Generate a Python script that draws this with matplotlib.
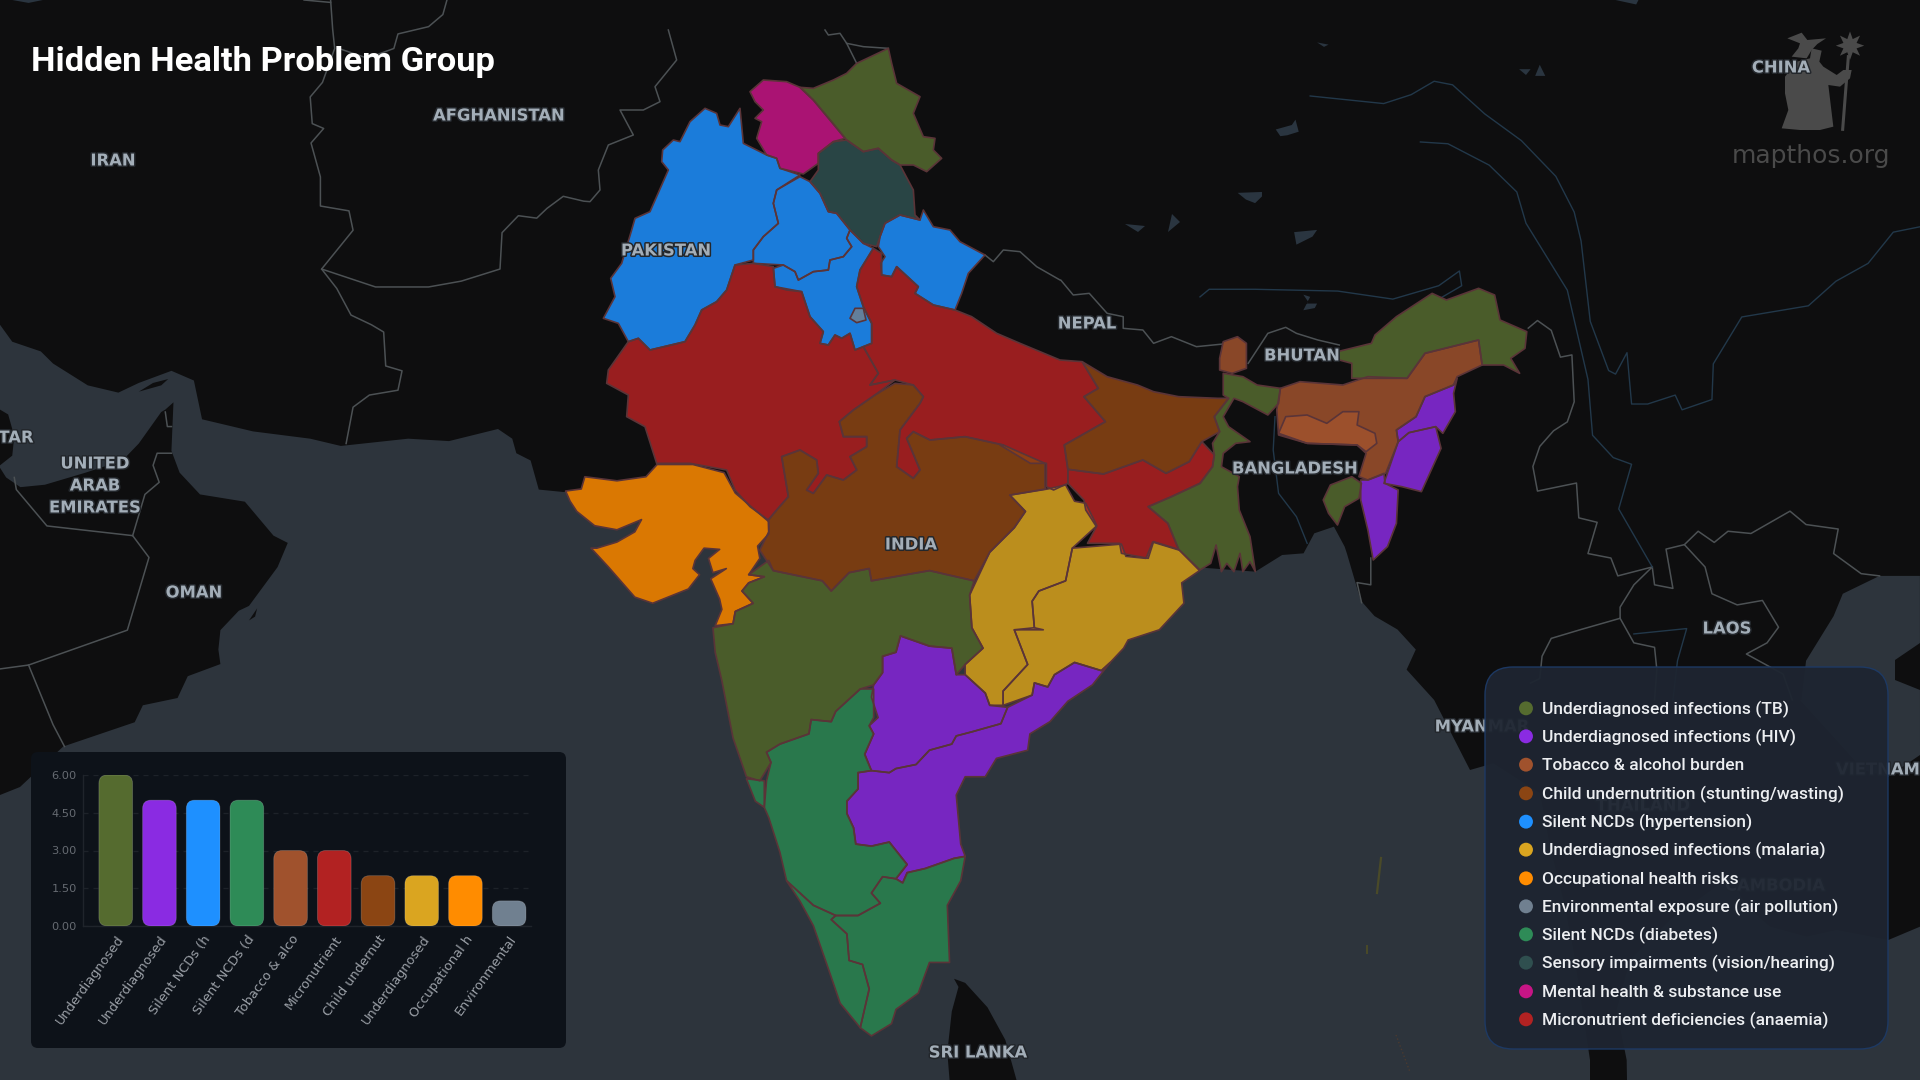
#!/usr/bin/env python3
"""Hidden health problem groups: state map of India with a small bar chart and legend.
"""

import matplotlib
matplotlib.use('Agg')
import matplotlib.pyplot as plt
import matplotlib.patheffects as pe
from matplotlib.patches import FancyBboxPatch, Polygon


def crop(x0, y0, sx, sy, pts):
  return [(x0 + x / sx, y0 + y / sy) for x, y in pts]

def a(pts):
  return crop(580, 30, 3, 3, pts)

def b(pts):
  return crop(1000, 270, 2.8, 3, pts)

def c(pts):
  return crop(550, 440, 2.24, 2.45, pts)

def d(pts):
  return crop(0, 0, 2.45, 2.063, pts)

def e(pts):
  return crop(1200, 0, 2.178, 2.24, pts)

def f(pts):
  return crop(1470, 660, 3, 3, pts)

def g(pts):
  return crop(1700, 20, 3, 3, pts)


# Bar chart
bar_labels = ['Underdiagnosed', 'Underdiagnosed', 'Silent NCDs (h', 'Silent NCDs (d', 'Tobacco & alco',
              'Micronutrient', 'Child undernut', 'Underdiagnosed', 'Occupational h', 'Environmental']
bar_values = [6, 5, 5, 5, 3, 3, 2, 2, 2, 1]
bar_colors = ['#556B2F', '#8A2BE2', '#1E90FF', '#2E8B57', '#A0522D',
              '#B22222', '#8B4513', '#DAA520', '#FF8C00', '#708090']
y_ticks = [0, 1.5, 3, 4.5, 6]

# Legend
legend_labels = ['Underdiagnosed infections (TB)', 'Underdiagnosed infections (HIV)', 'Tobacco & alcohol burden',
                 'Child undernutrition (stunting/wasting)', 'Silent NCDs (hypertension)',
                 'Underdiagnosed infections (malaria)', 'Occupational health risks',
                 'Environmental exposure (air pollution)', 'Silent NCDs (diabetes)',
                 'Sensory impairments (vision/hearing)', 'Mental health & substance use',
                 'Micronutrient deficiencies (anaemia)']
legend_colors = ['#556B2F', '#8A2BE2', '#A0522D', '#8B4513', '#1E90FF', '#DAA520',
                 '#FF8C00', '#708090', '#2E8B57', '#2F4F4F', '#C71585', '#B22222']
legend_rows = [145, 229, 314, 400, 485, 569, 655, 739, 823, 908, 994, 1078]

# State outlines
ladakh = a([(660,172),(700,175),(760,150),(800,130),(830,100),(925,55),(935,100),(950,160),(1020,200),(1000,250),(1030,320),(1065,325),(1060,360),(1085,385),(1040,425),(1000,405),(960,405),(935,390),(895,355),(850,365),(800,330),(750,270),(700,210)])
kashmir = a([(510,185),(550,150),(620,155),(660,172),(700,210),(750,270),(795,325),(760,335),(715,370),(715,400),(670,432),(600,415),(590,385),(560,375),(530,325),(545,275),(525,265),(550,240),(525,215)])
himachal = a([(760,335),(800,330),(850,365),(895,355),(935,390),(960,405),(1000,480),(1005,555),(1020,570),(960,555),(915,580),(900,620),(890,650),(850,640),(810,600),(770,550),(745,545),(720,490),(690,455),(715,420),(715,370)])
west_punjab = a([(375,235),(410,250),(420,285),(445,290),(480,235),(490,340),(560,375),(590,385),(600,415),(660,435),(590,480),(580,520),(595,580),(550,620),(520,660),(520,690),(465,705),(440,780),(410,815),(365,840),(345,885),(315,935),(210,960),(175,925),(145,935),(115,880),(70,865),(105,800),(92,745),(125,700),(155,600),(165,565),(210,545),(265,420),(245,395),(248,360),(280,330),(300,335),(330,275)])
punjab = a([(690,455),(720,490),(745,545),(770,550),(810,600),(800,625),(815,650),(790,680),(750,690),(745,720),(700,725),(655,750),(645,725),(610,705),(520,700),(520,660),(550,620),(595,580),(580,520),(590,480),(660,440)])
haryana = a([(810,600),(850,640),(880,655),(840,720),(830,770),(850,830),(875,880),(875,940),(825,960),(810,910),(785,925),(765,915),(745,945),(720,940),(730,905),(690,860),(665,785),(620,780),(585,770),(580,715),(610,705),(645,725),(655,750),(700,725),(745,720),(750,690),(790,680),(815,650),(800,625)])
delhi = a([(825,835),(850,835),(858,870),(830,878),(810,865)])
uttarakhand = a([(1030,540),(1060,590),(1110,600),(1140,635),(1215,675),(1165,730),(1145,790),(1125,840),(1060,825),(1005,790),(1015,770),(950,710),(935,740),(905,735),(902,700),(915,680),(895,650),(900,620),(915,580),(960,555),(1020,570)])
rajasthan = a([(520,700),(580,710),(585,770),(665,785),(690,860),(730,905),(720,940),(745,945),(765,915),(785,925),(810,910),(825,960),(850,950),(895,1030),(870,1065),(945,1050),(885,1095),(820,1140),(778,1175),(790,1220),(860,1220),(860,1250),(810,1280),(830,1320),(790,1350),(740,1335),(700,1390),(680,1380),(715,1330),(710,1290),(660,1260),(605,1280),(625,1400),(590,1440),(565,1470),(510,1430),(465,1380),(440,1320),(330,1300),(230,1300),(195,1190),(140,1160),(145,1095),(80,1060),(85,1020),(145,935),(175,925),(210,960),(315,935),(345,885),(365,840),(410,815),(440,780),(465,705)])
uttar_pradesh = a([(880,655),(905,670),(905,735),(935,740),(950,710),(1015,770),(1005,790),(1060,825),(1125,840),(1175,860),(1250,910),(1320,940),(1440,990)]) + b([(230,275),(275,355),(235,380),(295,455),(180,525),(190,598),(190,640),(150,660),(130,650),(130,580),(85,580),(0,525)]) + a([(1270,1245),(1155,1220),(1050,1230),(1000,1205),(980,1225),(1020,1320),(1000,1345),(950,1310),(960,1200),(1020,1120),(1030,1100),(1000,1065),(945,1050),(870,1065),(895,1030),(850,950),(875,940),(875,880),(850,830),(830,770),(840,720)])
madhya_pradesh = a([(778,1175),(820,1140),(885,1095),(945,1060),(1000,1065),(1030,1100),(1020,1120),(960,1200),(950,1310),(1000,1345),(1020,1320),(980,1225),(1000,1205),(1050,1230),(1155,1220),(1270,1245),(1395,1300),(1395,1370)]) + c([(1110,120),(1030,135),(1065,175),(1040,215),(985,275),(950,345),(850,320),(720,345),(715,315),(670,325),(630,370),(610,345),(500,320),(470,270),(490,225)]) + a([(565,1470),(590,1440),(625,1400),(605,1280),(660,1260),(710,1290),(715,1330),(680,1380),(700,1390),(740,1335),(790,1350),(830,1320),(810,1280),(860,1250),(860,1220),(790,1220)])
gujarat = c([(240,60),(320,60),(390,80),(415,130),(490,200),(490,230),(465,260),(470,290),(445,330),(480,335),(445,350),(430,370),(455,400),(415,420),(410,450),(370,455),(385,415),(380,390),(360,340),(395,315),(365,325),(355,290),(380,268),(345,265),(325,295),(320,315),(335,330),(310,365),(230,400),(190,385),(130,310),(92,265),(105,265),(150,250),(190,225),(205,195),(150,220),(100,210),(60,175),(45,150),(35,125),(70,120),(78,90),(150,100),(215,90)])
maharashtra = c([(490,295),(500,320),(610,345),(630,370),(670,325),(715,315),(720,345),(850,320),(950,345),(940,380),(945,460),(970,510),(930,550),(910,575),(900,510),(850,505),(785,480),(775,520),(745,530),(745,570),(725,600),(695,610),(640,665),(630,690),(585,685),(580,720),(515,745),(485,765),(495,790),(470,835),(440,825),(410,730),(385,590),(370,520),(365,460),(410,450),(415,420),(455,400),(430,370),(445,350),(480,335),(445,330)])
chhattisgarh = c([(1155,110),(1175,150),(1200,155),(1225,210),(1170,265),(1155,345),(1095,370),(1080,395),(1085,460),(1105,465),(1040,465),(1070,550),(1015,615),(1015,650),(985,650),(975,620),(930,575),(930,550),(970,510),(945,460),(940,380),(985,275),(1040,215),(1065,175),(1030,135),(1115,120)])
odisha = c([(1170,265),(1225,260),(1280,255),(1290,285),(1335,290),(1350,250),(1410,270),(1455,320),(1415,350),(1420,400),(1365,465),(1295,490),(1285,510),(1255,545),(1235,565),(1175,545),(1130,575),(1115,605),(1085,595),(1080,625),(1015,650),(1015,615),(1070,550),(1040,465),(1085,460),(1080,395),(1095,370),(1155,345)])
jharkhand = b([(190,598),(290,612),(400,570),(465,610),(530,575),(565,515),(600,555),(595,590),(560,640),(480,680),(415,710),(470,760),(500,838),(430,815),(415,865),(340,850),(335,820),(245,820),(270,770),(240,720),(235,690),(190,640)])
bihar = b([(230,275),(300,320),(385,345),(430,365),(500,380),(610,385),(640,385),(600,440),(615,485),(565,515),(530,575),(465,610),(400,570),(290,612),(190,598),(180,525),(295,455),(235,380),(275,355)])
west_bengal = b([(625,310),(680,320),(720,345),(785,355),(780,400),(750,435),(680,395),(655,385),(625,440),(640,470),(700,515),(660,520),(625,550),(620,590),(670,620),(665,650),(670,720),(700,800),(715,905),(700,875),(680,905),(672,850),(655,905),(635,880),(620,905),(605,825),(590,880),(560,900),(500,838),(470,760),(415,710),(480,680),(560,640),(595,590),(600,555),(595,520),(615,485),(600,440),(640,385),(625,375)])
sikkim = b([(625,215),(665,200),(690,220),(690,295),(650,310),(615,300),(615,265)])
assam = b([(785,355),(840,335),(960,345),(1030,320),(1140,325),(1190,250),(1340,210),(1350,285),(1280,320),(1270,345),(1190,380),(1165,440),(1110,480),(1115,515),(1080,610),(1030,630),(1005,620),(1025,550),(1000,525),(860,520),(780,495),(775,420)])
meghalaya = b([(780,490),(800,440),(860,435),(915,460),(960,425),(1005,425),(1000,465),(1050,490),(1055,520),(1025,545),(1000,525),(860,520)])
arunachal = b([(945,245),(1040,220),(1050,195),(1110,140),(1210,70),(1250,90),(1340,55),(1385,75),(1400,150),(1475,185),(1470,235),(1430,265),(1455,310),(1410,285),(1350,285),(1340,210),(1190,250),(1140,325),(985,325),(985,280),(950,270)])
nagaland = b([(1280,325),(1270,370),(1275,425),(1240,490),(1220,470),(1145,488),(1115,515),(1110,480),(1165,440),(1190,380),(1270,345)])
manipur = b([(1145,488),(1220,470),(1235,535),(1180,665),(1125,650),(1075,640),(1115,515)])
mizoram = b([(1030,630),(1075,610),(1078,640),(1115,660),(1110,760),(1085,830),(1045,870),(1030,780),(1010,690),(1010,630)])
tripura = b([(985,620),(1012,640),(1005,685),(965,710),(945,765),(920,730),(905,690),(925,645)])
telangana = c([(785,480),(850,505),(900,510),(910,575),(930,575),(975,620),(985,650),(1025,655),(1010,695),(945,715),(910,725),(900,745),(850,760),(820,795),(775,805),(760,815),(720,810),(705,770),(725,720),(715,700),(735,680),(720,630),(725,600),(745,570),(745,530),(775,520)])
andhra = c([(1255,545),(1215,600),(1160,640),(1120,690),(1075,720),(1070,760),(1000,780),(975,825),(930,825),(910,870),(920,990),(930,1020),(905,1025),(840,1050),(800,1060),(790,1085),(775,1075),(800,1040),(760,985),(720,995),(685,990),(680,950),(665,915),(665,885),(690,855),(690,815),(720,810),(760,815),(775,805),(820,795),(850,760),(900,745),(910,725),(945,715),(1010,695),(1025,655),(1080,625),(1085,595),(1115,605),(1130,575),(1175,545),(1235,565)])
karnataka = c([(725,610),(725,680),(715,700),(725,720),(705,770),(720,810),(690,815),(690,855),(665,885),(665,915),(680,950),(685,990),(720,995),(760,985),(800,1040),(775,1075),(745,1070),(720,1110),(740,1135),(690,1165),(640,1165),(590,1140),(530,1080),(515,1010),(490,925),(480,900),(485,835),(495,790),(485,765),(515,745),(580,720),(585,685),(630,690),(640,665),(695,610)])
goa = c([(440,830),(480,835),(480,900),(460,885)])
tamil_nadu = c([(930,1020),(920,1080),(890,1140),(895,1280),(850,1280),(825,1355),(775,1395),(765,1430),(720,1460),(695,1440),(715,1345),(700,1285),(670,1275),(665,1210),(630,1175),(640,1165),(690,1165),(740,1135),(720,1110),(745,1070),(775,1075),(790,1085),(800,1060),(840,1050),(905,1025)])
kerala = c([(530,1080),(590,1140),(640,1165),(630,1175),(665,1210),(670,1275),(700,1285),(715,1345),(695,1440),(650,1380),(625,1300),(590,1190),(560,1130)])

states = [
  (ladakh, '#556B2F'), (kashmir, '#C71585'), (himachal, '#2F4F4F'), (west_punjab, '#1E90FF'),
  (punjab, '#1E90FF'), (haryana, '#1E90FF'), (delhi, '#708090'), (uttarakhand, '#1E90FF'),
  (rajasthan, '#B22222'), (uttar_pradesh, '#B22222'), (madhya_pradesh, '#8B4513'), (gujarat, '#FF8C00'),
  (maharashtra, '#556B2F'), (chhattisgarh, '#DAA520'), (odisha, '#DAA520'), (jharkhand, '#B22222'),
  (bihar, '#8B4513'), (west_bengal, '#556B2F'), (sikkim, '#A0522D'), (assam, '#A0522D'),
  (meghalaya, '#A0522D'), (arunachal, '#556B2F'), (nagaland, '#8A2BE2'), (manipur, '#8A2BE2'),
  (mizoram, '#8A2BE2'), (tripura, '#556B2F'), (telangana, '#8A2BE2'), (andhra, '#8A2BE2'),
  (karnataka, '#2E8B57'), (goa, '#2E8B57'), (tamil_nadu, '#2E8B57'), (kerala, '#2E8B57'),
]

# Base map
sea_west = (
  d([(0,670),(30,705),(100,725),(130,750),(215,795),(290,810),(340,790),(420,765),(475,785),(495,865),(620,890),(760,905),(835,920),(1000,905),(1100,910),(1220,885),(1255,905),(1265,935),(1300,950),(1320,1010),(1380,1015)])
  + [(650,482), (800,520), (1100,560)]
  + b([(715,905),(790,855),(850,850),(880,790),(935,770),(965,830)])
  + e([(320,1240),(350,1345),(380,1380),(430,1410),(470,1455),(450,1500),(510,1568)])
  + f([(0,330),(70,310),(210,400),(240,560),(280,720),(310,870),(360,1200)])
  + [(1590,1080), (0,1080)]
)
sea_east = (
  f([(470,1200),(440,1050),(480,900),(600,780),(780,650),(830,740),(900,800),(1010,830),(1100,810),(1255,840),(1350,800)])
  + [(1920,1080), (1627,1080)]
)
sea_china = (
  e([(1568,1290),(1480,1290),(1400,1330),(1380,1380),(1320,1480),(1310,1568)])
  + f([(990,120),(1090,230),(1180,330),(1255,350),(1350,285)])
)
arabia = d([(0,965),(15,985),(50,1005),(110,1000),(210,975),(300,950),(340,915),(395,850),(405,845),(425,830),(420,930),(440,975),(490,1020),(600,1035),(670,1105),(705,1120),(680,1170),(610,1250),(585,1260),(540,1300),(535,1340),(540,1370),(460,1395),(435,1440),(350,1455),(330,1490),(155,1540)]) + [(20,787), (0,795)]
qatar = d([(0,845),(20,855),(35,900),(30,940),(0,960)])
qeshm = d([(340,808),(375,790),(412,782),(395,795)])
masirah = d([(610,1280),(630,1255),(625,1272)])
sri_lanka = c([(905,1320),(930,1330),(980,1390),(1020,1470),(1045,1568),(895,1568),(890,1500),(900,1400),(915,1340)])
hainan = [(1920,643),(1895,660),(1895,680),(1920,690)]
land_bits = [arabia, qatar, qeshm, masirah, sri_lanka, hainan]

borders = [
  d([(810,0),(815,60),(820,100),(790,170),(760,200),(765,255),(793,265),(762,295),(785,365),(785,425),(855,435),(865,475),(788,555),(825,595),(860,650),(910,670),(940,685),(945,755),(985,765),(975,805),(905,815),(865,840),(848,915)]),
  d([(788,555),(920,592),(1050,592),(1130,580),(1225,555),(1230,480),(1270,445),(1315,450),(1340,430),(1380,405),(1430,415)]) + a([(30,515),(60,480),(55,420),(85,345),(160,315),(120,240),(190,240),(240,215),(225,170),(290,90),(265,0)]),
  d([(1095,0),(1085,30),(1050,55),(975,70),(965,100),(900,120),(830,100)]),
  d([(745,0),(810,5)]),
  a([(735,0),(745,15),(780,10),(800,40),(830,100)]),
  a([(800,40),(850,50),(925,55)]),
  d([(35,985),(40,1010),(115,1085),(325,1105),(365,1150),(312,1300),(70,1372),(0,1380)]),
  d([(70,1372),(130,1495),(158,1540)]),
  d([(325,1105),(355,1020),(390,995),(375,960),(385,935),(420,935)]),
  d([(405,850),(410,880),(420,880)]),
  a([(1215,675),(1240,695),(1270,660),(1320,665),(1370,710),(1440,750)]) + b([(170,30),(205,75),(250,70),(300,130),(345,140),(345,175),(400,180),(430,220),(480,200),(550,230),(625,222)]),
  b([(695,280),(750,190),(800,172),(830,190),(890,210),(950,225)]),
  e([(715,735),(735,718),(765,740),(785,800),(810,795),(815,900),(800,945),(770,965),(740,1000),(725,1045),(735,1100),(820,1082),(825,1160),(865,1170),(845,1240),(895,1250),(910,1290),(985,1270),(990,1310),(1030,1318),(1015,1230),(1055,1220),(1100,1270),(1115,1330),(1170,1355),(1225,1345),(1260,1405),(1235,1440),(1190,1465),(1270,1510),(1290,1568)]),
  e([(1055,1220),(1085,1190),(1120,1215),(1150,1190),(1200,1195),(1285,1145),(1320,1175),(1390,1185),(1380,1240),(1440,1285),(1480,1290)]),
  e([(985,1270),(945,1310),(915,1360),(915,1385)]),
  e([(915,1385),(830,1410),(765,1430),(745,1470),(740,1520),(720,1530)]),
  e([(915,1385),(945,1440),(990,1450),(995,1500),(990,1568)]),
  e([(372,1250),(372,1310),(342,1305),(352,1350)]),
]
rivers = [
  e([(240,215),(400,232),(460,212),(510,182),(550,190),(620,255),(700,315),(775,395),(815,475),(830,540),(850,720),(890,830),(905,838),(930,790),(940,905),(975,905),(1035,885),(1050,918),(1115,895),(1118,815),(1180,710),(1325,685),(1385,630),(1455,590),(1510,520),(1568,508)]),
  e([(480,318),(540,322),(630,370),(690,430),(710,500),(800,650),(845,850),(855,975),(900,1025),(940,1040),(912,1140),(985,1270)]),
  e([(945,1420),(1060,1408),(1040,1480),(1030,1568)]),
  e([(0,665),(20,648),(120,648),(300,652),(420,670),(520,640),(565,607),(570,640),(520,670)]),
  b([(770,440),(765,540),(780,670),(830,740),(860,820)]),
]
lakes = [
  e([(255,95),(280,100),(270,105)]),
  e([(695,155),(720,155),(710,168)]),
  e([(730,170),(740,145),(752,170)]),
  e([(165,290),(200,280),(208,268),(215,295),(190,303),(175,305)]),
  e([(82,432),(135,430),(135,440),(120,455),(100,447)]),
  e([(205,520),(255,515),(245,530),(210,548)]),
  e([(225,660),(240,665),(232,680),(255,680),(250,690),(225,695),(235,675)]),
  e([(905,0),(955,0),(950,10)]),
  d([(30,0),(105,0),(70,6)]),
  [(1125,224),(1145,226),(1138,232)],
  [(1168,232),(1172,214),(1180,222)],
]

# Country names: text, x, y in image pixels
country_names = [
  ('IRAN', 113, 161), ('AFGHANISTAN', 499, 116), ('PAKISTAN', 666, 251), ('NEPAL', 1087, 324),
  ('BHUTAN', 1302, 356), ('BANGLADESH', 1295, 469), ('INDIA', 911, 545), ('SRI LANKA', 978, 1053),
  ('OMAN', 194, 593), ('UNITED', 95, 464), ('ARAB', 95, 486), ('EMIRATES', 95, 508), ('TAR', 16, 438),
  ('CHINA', 1781, 68), ('LAOS', 1727, 629), ('MYANMAR', 1482, 727), ('VIETNAM', 1878, 770),
  ('THAILAND', 1643, 806), ('CAMBODIA', 1775, 886),
]

# Logo
wizard_hat = g([(262,55),(305,38),(322,60),(378,55),(352,72),(335,90),(320,115),(275,110),(295,85),(300,70)])
wizard_body = g([(335,85),(365,92),(358,125),(370,140),(410,165),(430,150),(455,150),(450,175),(420,200),(385,195),(400,320),(360,330),(300,330),(245,325),(265,270),(255,220),(255,170),(290,125),(330,115)])
wizard_staff = g([(445,110),(428,328)])
wizard_star = g([(450,77)])


def draw_map(ax):
  ax.set_xlim(0, 1920)
  ax.set_ylim(1080, 0)
  ax.axis('off')
  ax.add_patch(plt.Rectangle((0, 0), 1920, 1080, fc='#0e0e0f', ec='none', zorder=0))

  for sea in [sea_west, sea_east, sea_china]:
    ax.add_patch(Polygon(sea, closed=True, fc='#2d343c', ec='none', zorder=1))
  for land in land_bits:
    ax.add_patch(Polygon(land, closed=True, fc='#0e0e0f', ec='none', zorder=2))
  for lake in lakes:
    ax.add_patch(Polygon(lake, closed=True, fc='#2a3540', ec='none', zorder=2))
  for line in borders:
    ax.plot(*zip(*line), color='#4c5154', lw=1.1, zorder=3, solid_joinstyle='round')
  for line in rivers:
    ax.plot(*zip(*line), color='#22384a', lw=1.0, zorder=3)

  # Dark base first so the sea never shows through the translucent fills
  for outline, color in states:
    ax.add_patch(Polygon(outline, closed=True, fc='#0e0e0f', ec='none', zorder=4))
    ax.add_patch(Polygon(outline, closed=True, fc=color, ec='none', alpha=0.85, zorder=4.5))
    ax.add_patch(Polygon(outline, closed=True, fc='none', ec='#5a3438', lw=1.2, zorder=5, joinstyle='round'))

  # Andaman islands, only specks at this zoom
  ax.plot([1381, 1377], [858, 893], color='#4a4a28', lw=1.6, zorder=3)
  ax.plot([1367, 1367], [946, 953], color='#4a4a28', lw=1.4, zorder=3)
  ax.plot([1396, 1410], [1035, 1072], color='#4a3a30', lw=1.0, ls=':', zorder=3)

  # Logo sits under the names
  ax.add_patch(Polygon(wizard_hat, closed=True, fc='#4a4a4a', ec='none', zorder=6))
  ax.add_patch(Polygon(wizard_body, closed=True, fc='#4a4a4a', ec='none', zorder=6))
  ax.plot(*zip(*wizard_staff), color='#4a4a4a', lw=2.2, zorder=6)
  ax.scatter(*zip(*wizard_star), marker=(8, 1, 0), s=420, fc='#4a4a4a', ec='none', zorder=6)

  halo = [pe.withStroke(linewidth=2.2, foreground='#23272c')]
  for name, x, y in country_names:
    ax.text(x, y, name, ha='center', va='center', color='#a3aeb8', fontsize=11.8, family='DejaVu Sans',
            weight='bold', zorder=7, path_effects=halo)

  ax.text(1811, 156, 'mapthos.org', ha='center', va='center', color='#4a4a4a', fontsize=18,
          family='DejaVu Sans', zorder=7)
  ax.text(31, 62, 'Hidden Health Problem Group', ha='left', va='center', color='white', fontsize=24.8,
          family='Roboto', weight='bold', zorder=7)


def draw_legend(ax):
  ax.add_patch(FancyBboxPatch((1485, 667), 403, 382, boxstyle='round,pad=0,rounding_size=28',
                              fc='#1e2531', ec='#1d3a66', lw=1.0, alpha=0.95, zorder=10))
  rows = [660 + r / 3 for r in legend_rows]
  ax.scatter([1526] * len(rows), rows, s=100, c=legend_colors, ec='none', zorder=11)
  for label, y in zip(legend_labels, rows):
    ax.text(1542, y + 1, label, ha='left', va='center', color='#eceef1', fontsize=12.5, family='Roboto',
            weight='medium', zorder=11)


def draw_bars(fig, ax):
  ax.add_patch(FancyBboxPatch((31, 752), 535, 296, boxstyle='round,pad=0,rounding_size=7',
                              fc='#0d1219', ec='none', zorder=10))

  bx = fig.add_axes([82.5 / 1920, 1 - 926 / 1080, 448.5 / 1920, 151 / 1080])
  bx.patch.set_alpha(0)
  bx.set_xlim(-0.76, 9.5)
  bx.set_ylim(0, 6)

  # Rounded tops and bottoms, corner radius about 8 px in both directions
  for i, (value, color) in enumerate(zip(bar_values, bar_colors)):
    bx.add_patch(FancyBboxPatch((i - 0.385, 0), 0.77, value, boxstyle='round,pad=0,rounding_size=0.19',
                                mutation_aspect=1.736, fc=color, ec='#ffffff30', lw=0.6, zorder=3))

  bx.set_yticks(y_ticks)
  bx.set_yticklabels([f'{t:.2f}' for t in y_ticks], color='#666b72', fontsize=8.2, family='DejaVu Sans')
  bx.set_xticks(range(len(bar_labels)))
  bx.set_xticklabels(bar_labels, rotation=54, ha='right', va='top', rotation_mode='anchor',
                     color='#9a9fa6', fontsize=9.4, family='DejaVu Sans')
  bx.tick_params(length=0, pad=4)
  bx.tick_params(axis='x', pad=5)
  bx.grid(axis='y', color='#1d2229', lw=0.9, ls=(0, (4, 4)), zorder=1)
  for side in ['top', 'right']:
    bx.spines[side].set_visible(False)
  for side in ['left', 'bottom']:
    bx.spines[side].set_color('#1f242b')
    bx.spines[side].set_linewidth(1.0)


def main():
  fig = plt.figure(figsize=(19.2, 10.8), dpi=100)
  ax = fig.add_axes([0, 0, 1, 1])
  draw_map(ax)
  draw_legend(ax)
  draw_bars(fig, ax)
  fig.savefig('out.png', dpi=100)


if __name__ == "__main__":
  main()
